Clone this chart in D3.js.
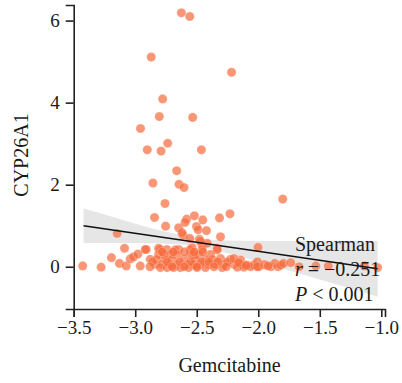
<!DOCTYPE html>
<html>
<head>
<meta charset="utf-8">
<script src="https://cdn.jsdelivr.net/npm/d3@7"></script>
<style>
    body { margin: 0; background: #fff; }
    svg text { font-family: 'Liberation Serif', 'Times New Roman', serif; fill: #1a1a1a; }
</style>
</head>
<body>
<svg id="canvas"></svg>
<script>
// scatter of gemcitabine sensitivity vs CYP26A1 expression, with linear fit + CI band

// gemcitabine (x) and CYP26A1 (y)
let gemX = [
    -2.625, -2.557, -2.87, -2.217, -2.777, -2.804, -2.533, -2.957, -2.902, -2.79,
    -2.736, -2.462, -2.663, -2.856, -2.644, -2.603, -1.801, -2.758, -2.843, -2.23,
    -2.315, -2.753, -3.147, -2.307, -2.002,
    -2.582, -2.519, -2.451, -2.647, -2.611, -2.502, -2.489, -2.421, -2.557, -2.478,
    -2.456, -2.415, -2.538, -2.334, -2.595, -2.62, -2.524, -2.47,
    -3.427, -3.277, -3.087, -3.193, -3.128, -3.073, -3.041, -3.014, -2.978, -2.959, -2.91,
    -2.918, -2.796, -2.744, -2.647, -2.551, -2.456, -2.334, -2.81, -2.674,
    -2.81, -2.769, -2.715, -2.66, -2.551, -2.484, -2.388,
    -2.878, -2.823, -2.755, -2.701, -2.606, -2.511, -2.429, -2.374, -2.307, -2.225, -2.143,
    -2.837, -2.782, -2.715, -2.66, -2.578, -2.524, -2.47, -2.402, -2.347, -2.28, -2.198, -2.143, -2.089, -2.035,
    -2.796, -2.741, -2.688, -2.633, -2.565, -2.497, -2.429, -2.293, -2.17, -2.117, -2.062, -1.994,
    -2.78, -2.69, -2.6, -2.52, -2.45,
    -2.86, -2.74, -2.64, -2.55, -2.46, -2.4, -2.33, -2.25,
    -2.88, -2.7, -2.6, -2.5, -2.36, -2.26,
    -2.007, -2.007, -1.897, -1.866, -1.839, -1.817, -1.795, -1.736, -1.668, -1.532,
    -1.431, -1.138, -1.03, -2.198, -2.16, -1.95, -1.92, -2.1
];
let cypY = [
    6.19, 6.10, 5.11, 4.74, 4.09, 3.66, 3.64, 3.37, 2.85, 2.82,
    3.01, 2.85, 2.34, 2.04, 2.01, 1.93, 1.65, 1.54, 1.20, 1.29,
    1.19, 0.99, 0.81, 0.73, 0.47,
    1.16, 1.24, 1.14, 0.95, 0.77, 0.98, 0.90, 0.88, 0.69, 0.67,
    0.53, 0.57, 0.46, 0.45, 1.08, 0.83, 0.29, 0.62,
    0.02, -0.01, 0.45, 0.22, 0.08, 0.02, 0.19, 0.24, 0.31, 0.02, 0.42,
    0.42, 0.42, 0.42, 0.42, 0.42, 0.42, 0.41, 0.45, 0.41,
    0.30, 0.30, 0.30, 0.30, 0.30, 0.30, 0.30,
    0.18, 0.18, 0.18, 0.18, 0.18, 0.18, 0.18, 0.18, 0.20, 0.18, 0.16,
    0.06, 0.06, 0.06, 0.06, 0.06, 0.06, 0.06, 0.06, 0.06, 0.06, 0.06, 0.06, 0.04, 0.05,
    -0.02, -0.02, -0.02, -0.02, -0.02, -0.02, -0.02, -0.02, -0.01, -0.01, 0.0, 0.0,
    0.36, 0.36, 0.36, 0.36, 0.36,
    0.12, 0.12, 0.12, 0.12, 0.12, 0.12, 0.12, 0.12,
    0.0, 0.0, 0.0, 0.0, 0.0, 0.0,
    0.12, 0.0, 0.0, 0.08, 0.0, 0.04, 0.08, 0.10, 0.0, 0.02,
    0.02, 0.02, -0.02, 0.2, 0.1, 0.05, 0.02, 0.03
];

// fitted line and its confidence band
let fitX = [-3.42, -1.03];
let fitY = [1.0, -0.05];
let bandX = [-3.42, -3.2, -3.0, -2.75, -2.5, -2.25, -2.0, -1.75, -1.5, -1.25, -1.03];
let bandLo = [0.58, 0.58, 0.58, 0.56, 0.50, 0.33, 0.12, -0.09, -0.31, -0.53, -0.73];
let bandHi = [1.42, 1.23, 1.05, 0.85, 0.70, 0.64, 0.63, 0.63, 0.63, 0.63, 0.63];

let xTicks = [-3.5, -3.0, -2.5, -2.0, -1.5, -1.0];
let yTicks = [0, 2, 4, 6];
let statLines = ['Spearman', 'r = \u22120.251', 'P < 0.001'];

let width = 402;
let height = 383;
const serif = "'Liberation Serif', 'Times New Roman', serif";

const canvas = d3.select('#canvas').attr('width', width).attr('height', height);

const xScale = d3.scaleLinear().domain([-3.5, -0.97]).range([73.7, 385]);
const yScale = d3.scaleLinear().domain([-1.03, 6.38]).range([309, 5]);

const fmtMinus = (s) => s.replace('-', '\u2212');

// band
const band = bandX.map((x, i) => ({ x: x, lo: bandLo[i], hi: bandHi[i] }));
canvas.append('path')
    .datum(band)
    .attr('d', d3.area()
        .x((d) => xScale(d.x))
        .y0((d) => yScale(d.lo))
        .y1((d) => yScale(d.hi))
        .curve(d3.curveMonotoneX))
    .attr('fill', '#e6e6e6');

// points
const pts = gemX.map((x, i) => ({ x: x, y: cypY[i] }));
canvas.append('g')
    .selectAll('circle')
    .data(pts)
    .enter()
    .append('circle')
    .attr('cx', (d) => xScale(d.x))
    .attr('cy', (d) => yScale(d.y))
    .attr('r', 4.6)
    .attr('fill', '#f7693a')
    .attr('fill-opacity', 0.7)
    .attr('stroke', '#fff')
    .attr('stroke-opacity', 0.5)
    .attr('stroke-width', 0.5);

// regression line
canvas.append('path')
    .datum(fitX.map((x, i) => [x, fitY[i]]))
    .attr('d', d3.line().x((d) => xScale(d[0])).y((d) => yScale(d[1])))
    .attr('fill', 'none')
    .attr('stroke', '#111')
    .attr('stroke-width', 1.5);

// axes
const xAxis = canvas.append('g')
    .attr('transform', 'translate(0,309)')
    .call(d3.axisBottom(xScale).tickValues(xTicks).tickSize(8).tickPadding(4)
        .tickFormat((d) => fmtMinus(d3.format('.1f')(d))));
const yAxis = canvas.append('g')
    .attr('transform', 'translate(73.7,0)')
    .call(d3.axisLeft(yScale).tickValues(yTicks).tickSize(8).tickPadding(6)
        .tickFormat(d3.format('d')));

[xAxis, yAxis].forEach((ax) => {
    ax.attr('font-family', serif).attr('font-size', 19);
    ax.select('.domain').attr('stroke', '#222').attr('stroke-width', 1.6);
    ax.selectAll('.tick line').attr('stroke', '#222').attr('stroke-width', 1.6);
    ax.selectAll('.tick text')
        .attr('fill', '#1a1a1a')
        .attr('font-family', serif)
        .style('font-family', serif)
        .style('font-size', '19px');
});

// axis titles
canvas.append('text')
    .attr('x', 229.5)
    .attr('y', 371.5)
    .attr('text-anchor', 'middle')
    .style('font-size', '20px')
    .text('Gemcitabine');

canvas.append('text')
    .attr('transform', 'translate(28,155) rotate(-90)')
    .attr('text-anchor', 'middle')
    .style('font-size', '20px')
    .text('CYP26A1');

// stats annotation
const stat = canvas.append('g').style('font-size', '20px');
stat.append('text').attr('x', 295).attr('y', 251).text(statLines[0]);
const rText = stat.append('text').attr('x', 295).attr('y', 276);
rText.append('tspan').style('font-style', 'italic').text(statLines[1].slice(0, 1));
rText.append('tspan').text(statLines[1].slice(1));
const pText = stat.append('text').attr('x', 295).attr('y', 301);
pText.append('tspan').style('font-style', 'italic').text(statLines[2].slice(0, 1));
pText.append('tspan').text(statLines[2].slice(1));
</script>
</body>
</html>
